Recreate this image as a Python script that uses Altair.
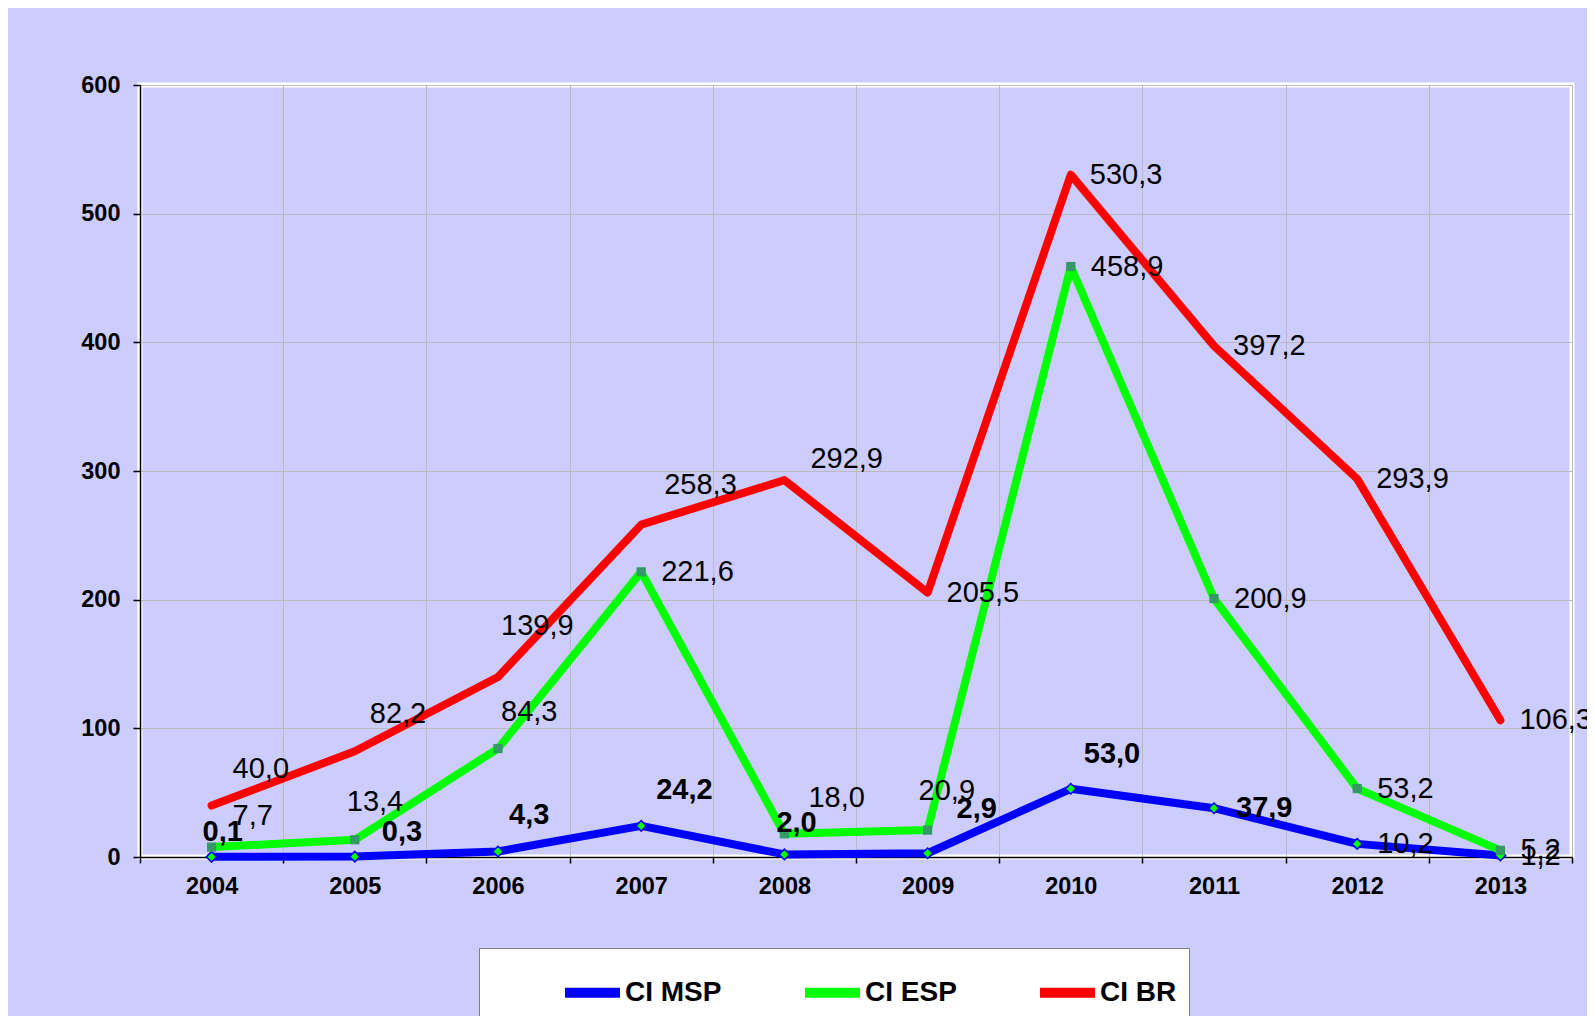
import altair as alt
import pandas as pd

# ---------------- data ----------------
years = ["2004", "2005", "2006", "2007", "2008", "2009", "2010", "2011", "2012", "2013"]
series_names = ["CI MSP", "CI ESP", "CI BR"]
ci_msp = [0.1, 0.3, 4.3, 24.2, 2.0, 2.9, 53.0, 37.9, 10.2, 1.2]
ci_esp = [7.7, 13.4, 84.3, 221.6, 18.0, 20.9, 458.9, 200.9, 53.2, 5.2]
ci_br = [40.0, 82.2, 139.9, 258.3, 292.9, 205.5, 530.3, 397.2, 293.9, 106.3]
y_ticks = [0, 100, 200, 300, 400, 500, 600]

# ---------------- styles ----------------
series_colors = ["#0000FF", "#00FF00", "#FF0000"]
FONT = "Liberation Sans, Arial, sans-serif"
LEGEND_FONT = "Liberation Sans Narrow, Arial Narrow, Liberation Sans, Arial, sans-serif"

# data-label nudges (pixels) and weights, in year order
label_dx = {
    "CI MSP": [-9, 27, 11, 15, -8, 29, 13, 22, 20, 20],
    "CI ESP": [21, -8, 3, 20, 24, -9, 20, 20, 20, 20],
    "CI BR": [21, 15, 3, 23, 26, 19, 19, 19, 19, 19],
}
label_dy = {
    "CI MSP": [-25, -25, -36, -36, -31, -44, -35, 0, 0, 1],
    "CI ESP": [-31, -38, -37, 0, -36, -39, 0, 0, 0, 0],
    "CI BR": [-37, -37, -51, -40, -21, 0, 0, 0, 0, 0],
}
label_bold = {
    "CI MSP": [True, True, True, True, True, True, True, True, False, False],
    "CI ESP": [False] * 10,
    "CI BR": [False] * 10,
}

# ---------------- table ----------------
rows = []
for s, vals in zip(series_names, [ci_msp, ci_esp, ci_br]):
    for yr, v in zip(years, vals):
        rows.append({
            "series": s,
            "year": yr,
            "value": v,
            "label": f"{v:.1f}".replace(".", ","),
            "key": f"{s}|{yr}",
        })
df = pd.DataFrame(rows)

x_enc = alt.X(
    "year:O",
    sort=years,
    bandPosition=0.5,
    scale=alt.Scale(type="band", paddingInner=0, paddingOuter=0),
    axis=alt.Axis(
        title=None,
        labelAngle=0,
        tickBand="extent",
        grid=True,
        tickSize=6,
        labelPadding=11,
    ),
)
y_enc = alt.Y(
    "value:Q",
    scale=alt.Scale(domain=[0, 600], nice=False),
    axis=alt.Axis(title=None, values=y_ticks, grid=True, tickSize=7, labelPadding=13),
)

base = alt.Chart(df)

lines = base.mark_line(strokeWidth=8, strokeCap="round", strokeJoin="round").encode(
    x=x_enc,
    y=y_enc,
    color=alt.Color(
        "series:N",
        sort=series_names,
        scale=alt.Scale(domain=series_names, range=series_colors),
        legend=alt.Legend(
            title=None,
            orient="none",
            legendX=339,
            legendY=863,
            direction="horizontal",
            fillColor="white",
            strokeColor="#7F7F7F",
            padding=12,
            columnPadding=9,
            symbolType="stroke",
            symbolSize=3025,
            symbolStrokeWidth=10,
            symbolOffset=69,
            labelOffset=0,
            labelFont=LEGEND_FONT,
            labelFontSize=28,
            labelFontWeight="bold",
            labelColor="black",
            labelLimit=400,
        ),
    ),
)

msp_pts = base.transform_filter(alt.datum.series == "CI MSP").mark_point(
    shape="diamond", filled=True, fill="#00FF00", stroke="#0000FF",
    strokeWidth=1.5, size=110, opacity=1,
).encode(x=x_enc, y=y_enc)

esp_pts = base.transform_filter(alt.datum.series == "CI ESP").mark_point(
    shape="square", filled=True, color="#339966", size=85, opacity=1,
).encode(x=x_enc, y=y_enc)

# group labels by their nudge/weight
groups = {}
for s in series_names:
    for i, yr in enumerate(years):
        k = (label_dx[s][i], label_dy[s][i], label_bold[s][i])
        groups.setdefault(k, []).append(f"{s}|{yr}")

text_layers = []
for (dx, dy, bold), keys in groups.items():
    text_layers.append(
        base.transform_filter(alt.FieldOneOfPredicate(field="key", oneOf=keys))
        .mark_text(
            align="left", baseline="middle", dx=dx, dy=dy,
            font=FONT, fontSize=29, fontWeight="bold" if bold else "normal",
            color="black",
        )
        .encode(x=x_enc, y=y_enc, text="label:N")
    )

chart = (
    alt.layer(lines, msp_pts, esp_pts, *text_layers)
    .properties(
        width=1432,
        height=772,
        autosize=alt.AutoSizeParams(type="none"),
        padding={"left": 132, "top": 77, "right": 15, "bottom": 159},
        background="#CCCCFF",
    )
    .configure_view(stroke="white", strokeWidth=5, fill="#CCCCFF")
    .configure_axis(
        labelFont=FONT,
        labelFontSize=23.5,
        labelFontWeight="bold",
        labelColor="black",
        domainColor="black",
        domainWidth=1.5,
        tickColor="black",
        tickWidth=1.5,
        gridColor="#BBBBBB",
        gridWidth=1,
    )
)

chart.save("out.html", embed_options={"renderer": "svg", "actions": False})
